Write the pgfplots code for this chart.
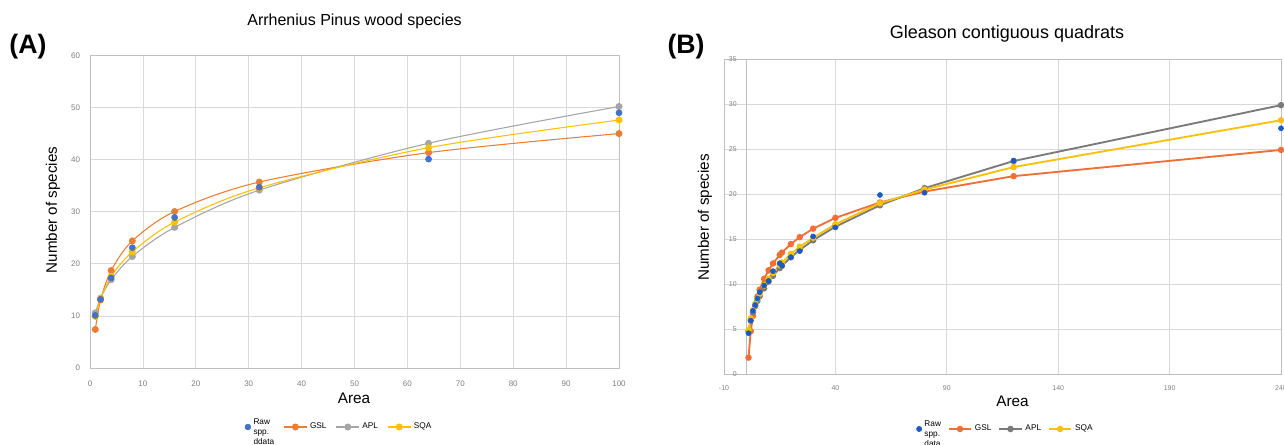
\documentclass[border=0pt]{standalone}
\usepackage{pgfplots}
\pgfplotsset{compat=1.18}
\usepackage{pgfplotstable}
\usepackage{fontspec}
\setmainfont{Liberation Sans}
\definecolor{aBlue}{HTML}{4472C4}
\definecolor{aOrange}{HTML}{ED7D31}
\definecolor{aGray}{HTML}{A5A5A5}
\definecolor{aYellow}{HTML}{FFC000}
\definecolor{bBlue}{HTML}{1A5BC4}
\definecolor{bOrange}{HTML}{EF6F36}
\definecolor{bGray}{HTML}{7A7A7A}
\definecolor{bYellow}{HTML}{F9C00C}
\definecolor{gridc}{HTML}{D9D9D9}
\definecolor{axisc}{HTML}{BFBFBF}
\definecolor{tickc}{HTML}{7F7F7F}

\pgfplotstableread{
x raw gsl apl sqa
1 10.1 7.4 10.6 9.9
2 13.2 13.06 13.4 13.3
4 17.3 18.72 16.95 17.6
8 23.1 24.4 21.4 22.3
16 28.9 30.05 27.0 28.0
32 34.7 35.7 34.15 34.6
64 40.1 41.35 43.15 42.3
100 49.0 45.0 50.2 47.6
}\tableA

\pgfplotstableread{
x raw gsl apl sqa
1 4.56 1.85 4.75 4.9
2 5.96 4.77 5.99 6.2
3 7.04 6.47 6.87 7.1
4 7.70 7.68 7.56 7.8
5 8.41 8.62 8.15 8.4
6 9.11 9.39 8.67 8.95
8 9.85 10.6 9.54 9.85
10 10.37 11.53 10.29 10.6
12 11.44 12.3 10.93 11.25
15 12.33 13.24 11.78 12.1
16 12.07 13.51 12.04 12.4
20 13.0 14.45 12.98 13.35
24 13.67 15.22 13.80 14.15
30 15.3 16.16 14.87 15.15
40 16.3 17.36 16.38 16.65
60 19.9 19.07 18.76 18.98
80 20.15 20.28 20.66 20.5
120 23.7 21.99 23.67 23.0
240 27.3 24.9 29.87 28.2
}\tableB

\begin{document}
\begin{tikzpicture}
\useasboundingbox (0,0) rectangle (963pt,333pt);
% ---------------- Panel A ----------------
\begin{axis}[
 scale only axis, width=396.75pt, height=234.4pt,
 at={(67.5pt,57pt)}, anchor=south west,
 xmin=0, xmax=100, ymin=0, ymax=60,
 xtick distance=10, ytick distance=10,
 grid=major, grid style={gridc, line width=0.6pt},
 axis line style={axisc, line width=0.6pt},
 major tick length=0pt,
 /pgf/number format/assume math mode=true,
 tick label style={font=\fontsize{6}{7}\selectfont, text=tickc},
 xticklabel style={yshift=-6pt},
 yticklabel style={xshift=-4pt},
 legend style={at={(0.4716,-0.1888)}, anchor=center, draw=none, fill=none,
   font=\fontsize{6.2}{7.5}\selectfont,
   /tikz/every even column/.append style={column sep=5pt}},
 legend columns=4,
 legend cell align=left,
]
\addlegendimage{only marks, mark=*, mark size=2.2pt, aBlue}
\addlegendentry{\begin{tabular}[c]{@{}l@{}}Raw\\spp.\\ddata\end{tabular}}
\addplot[smooth, aOrange, line width=0.8pt, mark=*, mark size=2.2pt] table[x=x,y=gsl]{\tableA};
\addlegendentry{GSL}
\addplot[smooth, aGray, line width=0.8pt, mark=*, mark size=2.2pt] table[x=x,y=apl]{\tableA};
\addlegendentry{APL}
\addplot[smooth, aYellow, line width=0.8pt, mark=*, mark size=2.2pt] table[x=x,y=sqa]{\tableA};
\addlegendentry{SQA}
\addplot[only marks, mark=*, aBlue, mark size=2.3pt, forget plot] table[x=x,y=raw]{\tableA};
\end{axis}
% ---------------- Panel B ----------------
\begin{axis}[
 scale only axis, width=417.75pt, height=236.5pt,
 at={(543pt,52.3pt)}, anchor=south west,
 xmin=-10, xmax=240, ymin=0, ymax=35,
 xtick={-10,40,90,140,190,240}, ytick distance=5,
 extra x ticks={0}, extra x tick labels={},
 extra x tick style={grid=major, grid style={axisc, line width=0.7pt}},
 grid=major, grid style={gridc, line width=0.6pt},
 axis line style={axisc, line width=0.6pt},
 major tick length=0pt,
 /pgf/number format/assume math mode=true,
 tick label style={font=\fontsize{5.2}{6}\selectfont, text=tickc},
 xticklabel style={yshift=-5pt},
 yticklabel style={xshift=13pt},
 legend style={at={(0.506,-0.1735)}, anchor=center, draw=none, fill=none,
   font=\fontsize{6.2}{7.5}\selectfont,
   /tikz/every even column/.append style={column sep=3pt}},
 legend columns=4,
 legend cell align=left,
]
\addlegendimage{only marks, mark=*, mark size=2.0pt, bBlue}
\addlegendentry{\begin{tabular}[c]{@{}l@{}}Raw\\spp.\\data\end{tabular}}
\addplot[bOrange, line width=1.4pt, mark=*, mark size=1.7pt] table[x=x,y=gsl]{\tableB};
\addlegendentry{GSL}
\addplot[bGray, line width=1.4pt, mark=*, mark size=1.7pt] table[x=x,y=apl]{\tableB};
\addlegendentry{APL}
\addplot[bYellow, line width=1.4pt, mark=*, mark size=1.7pt] table[x=x,y=sqa]{\tableB};
\addlegendentry{SQA}
\addplot[only marks, mark=*, bBlue, mark size=1.9pt, forget plot] table[x=x,y=raw]{\tableB};
\end{axis}
% ---------------- Text ----------------
\node[anchor=base, font=\fontsize{12}{14}\selectfont] at (265.9pt,313.5pt) {Arrhenius Pinus wood species};
\node[anchor=base, font=\fontsize{13.5}{16}\selectfont] at (755.25pt,304.5pt) {Gleason contiguous quadrats};
\node[font=\fontsize{20}{24}\bfseries] at (21pt,297.75pt) {(A)};
\node[font=\fontsize{20}{24}\bfseries] at (514.5pt,297.75pt) {(B)};
\node[rotate=90, font=\fontsize{11.4}{13}\selectfont] at (39.75pt,175.5pt) {Number of species};
\node[rotate=90, font=\fontsize{11.4}{13}\selectfont] at (528.75pt,169.9pt) {Number of species};
\node[font=\fontsize{11.5}{13}\selectfont] at (265.5pt,34.5pt) {Area};
\node[font=\fontsize{11.5}{13}\selectfont] at (759.4pt,32.25pt) {Area};
\end{tikzpicture}
\end{document}
